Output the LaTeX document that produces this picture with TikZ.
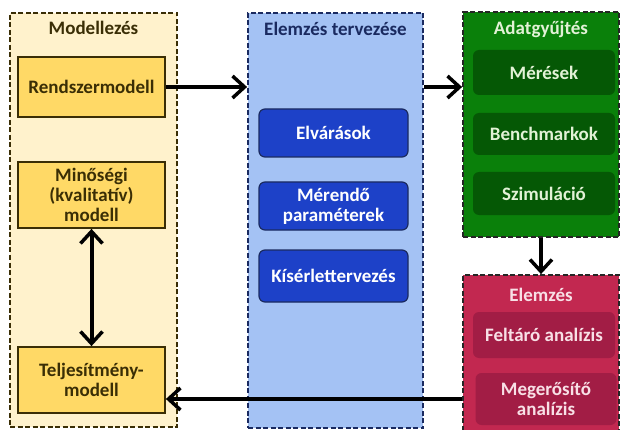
\documentclass[tikz,border=0pt]{standalone}
\usepackage{fontspec}
\setmainfont{Carlito}
\usetikzlibrary{arrows.meta}

\definecolor{cream}{HTML}{FFF2CC}
\definecolor{ygold}{HTML}{FFD966}
\definecolor{ydark}{HTML}{3A2E05}
\definecolor{lblue}{HTML}{A4C2F4}
\definecolor{dblue}{HTML}{1D41C8}
\definecolor{navy}{HTML}{1A2A60}
\definecolor{mgreen}{HTML}{0A800A}
\definecolor{dgreen}{HTML}{055805}
\definecolor{lgreen}{HTML}{E2F2D6}
\definecolor{mred}{HTML}{C22850}
\definecolor{dred}{HTML}{A21D45}
\definecolor{lpink}{HTML}{F8E0E6}

\begin{document}
\begin{tikzpicture}[x=1pt, y=-1pt, font=\fontsize{19}{20}\selectfont\bfseries,
                group/.style={rectangle, draw, line width=1.8pt, dash pattern=on 5pt off 2.5pt},
                ybox/.style={rectangle, draw=ydark, fill=ygold, line width=1.8pt, text=ydark, align=center, minimum width=147pt},
                bbox/.style={rectangle, rounded corners=6pt, draw=navy, fill=dblue, line width=1.2pt, text=white, align=center, minimum width=149pt, minimum height=48pt},
                gbox/.style={rectangle, rounded corners=6pt, fill=dgreen, text=lgreen, align=center, minimum width=142pt},
                rbox/.style={rectangle, rounded corners=6pt, fill=dred, text=lpink, align=center, minimum width=142pt},
                barb/.tip={Straight Barb[length=12pt, width=22pt, line width=3.5pt]},
                arr/.style={line width=4pt, -barb}
            ]
            \useasboundingbox (0,0) rectangle (620,430);

            % Modellezes
            \node[group, draw=ydark, fill=cream, minimum width=167pt, minimum height=414pt] (model) at (93.5,220) {};
            \node[text=ydark] (modeltitle) at (93.5,28) {Modellezés};
            \node[ybox, minimum height=60pt] (rendszer) at (91.5,87) {Rendszermodell};
            \node[ybox, minimum height=66pt] (minoseg) at (91.5,195) {Minőségi\\(kvalitatív)\\modell};
            \node[ybox, minimum height=66pt] (teljes) at (91.5,380) {Teljesítmény-\\modell};

            % Elemzes tervezese
            \node[group, draw=navy, fill=lblue, minimum width=175pt, minimum height=415pt] (terv) at (335.5,220.5) {};
            \node[text=navy] (tervtitle) at (335.5,29) {Elemzés tervezése};
            \node[bbox] (elvar) at (333.5,133) {Elvárások};
            \node[bbox] (merendo) at (333.5,206) {Mérendő\\paraméterek};
            \node[bbox, minimum height=52pt] (kiserlet) at (333.5,276) {Kísérlettervezés};

            % Adatgyujtes
            \node[group, draw=black!85, fill=mgreen, minimum width=156pt, minimum height=225pt] (adat) at (541,124.5) {};
            \node[text=lgreen] (adattitle) at (541,29) {Adatgyűjtés};
            \node[gbox, minimum height=45pt] (meres) at (544,72.5) {Mérések};
            \node[gbox, minimum height=42pt] (bench) at (544,134) {Benchmarkok};
            \node[gbox, minimum height=43pt] (szimul) at (544,193.5) {Szimuláció};

            % Elemzes
            \node[group, draw=black!85, fill=mred, minimum width=156pt, minimum height=160pt] (elemz) at (541,355) {};
            \node[text=lpink] (elemztitle) at (541,295) {Elemzés};
            \node[rbox, minimum height=46pt] (feltaro) at (544,335) {Feltáró analízis};
            \node[rbox, minimum height=52pt, minimum width=141pt] (megerosit) at (546,399) {Megerősítő\\analízis};

            % connectors
            \draw[arr] (rendszer.east) -- (rendszer.east -| terv.west);
            \draw[arr] (terv.east |- rendszer) -- (adat.west |- rendszer);
            \draw[arr] (adat.south) -- (elemz.north);
            \draw[arr] (elemz.west |- megerosit) -- (teljes.east |- megerosit);
            \draw[line width=4pt, barb-barb] (minoseg.south) -- (teljes.north);

        \end{tikzpicture}
\end{document}
